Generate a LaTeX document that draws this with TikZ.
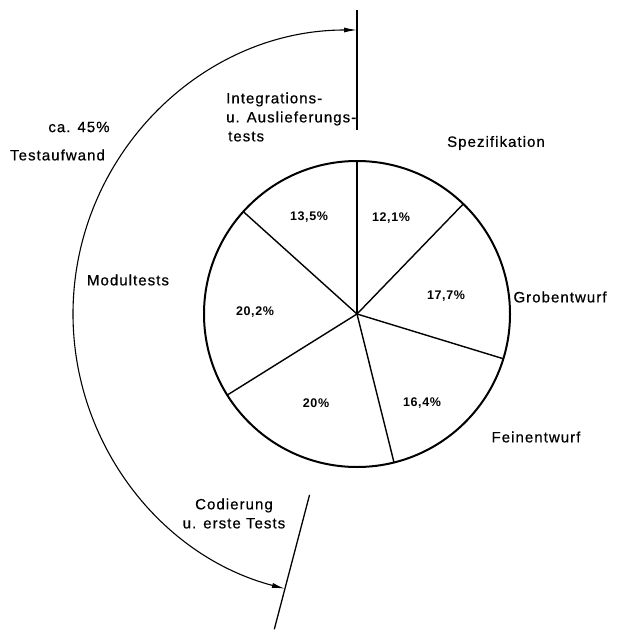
\documentclass[tikz,border=0pt]{standalone}
\usepackage{fontspec}
\usetikzlibrary{arrows.meta}
\newfontfamily\labfont[LetterSpace=7,FakeBold=0.6]{Liberation Sans}
\newfontfamily\pctfont[LetterSpace=5]{Liberation Sans}
\begin{document}
\begin{tikzpicture}[x=1pt,y=1pt,
  lab/.style={font=\labfont\fontsize{15}{19}\selectfont, inner sep=0pt},
  pct/.style={font=\pctfont\bfseries\fontsize{12.5}{15}\selectfont, inner sep=0pt},
  slice/.style={line width=1.4pt},
  tick/.style={line width=1.3pt},
  span/.style={line width=1.1pt, {Latex[length=13pt,width=5pt]}-{Latex[length=13pt,width=5pt]}}]
\useasboundingbox (0,0) rectangle (632,-634);
\coordinate (C) at (357,-314);
% pie
\node[circle, draw, line width=2pt, minimum size=306pt, inner sep=0pt, outer sep=0pt] (pie) at (C) {};
\foreach \a in {90,46.44,-17.28,-76.32,-148.32,138.96}
  \draw[slice] (pie.center) -- (pie.\a);
% outer arc with ticks
\coordinate (arcS) at ([shift={(90:284)}]C);
\draw[span] (arcS) arc[start angle=90, end angle=255.3, radius=284];
\coordinate (t1) at ([shift={(90:184)}]C);
\coordinate (t2) at ([shift={(90:304)}]C);
\coordinate (b1) at ([shift={(255.3:187)}]C);
\coordinate (b2) at ([shift={(255.3:326)}]C);
\draw[tick] (t1) -- (t2);
\draw[tick] (b1) -- (b2);
% percentages
\node[pct] (p1) at (391,-218) {12,1\%};
\node[pct] (p2) at (446,-296) {17,7\%};
\node[pct] (p3) at (422,-403) {16,4\%};
\node[pct] (p4) at (316,-403) {20\%};
\node[pct] (p5) at (255,-312) {20,2\%};
\node[pct] (p6) at (309,-217) {13,5\%};
% labels
\node[lab, anchor=west, align=left] (integ) at (226,-117) {Integrations-\\u. Auslieferungs-\\\hspace*{2pt}tests};
\node[lab] (spez) at (496,-143) {Spezifikation};
\node[lab] (grob) at (560,-297) {Grobentwurf};
\node[lab] (fein) at (536,-437) {Feinentwurf};
\node[lab, align=center] (cod) at (234,-513.5) {Codierung\\u. erste Tests};
\node[lab] (ca) at (79,-127) {ca. 45\%};
\node[lab] (aufw) at (57.5,-155) {Testaufwand};
\node[lab] (modul) at (128,-280) {Modultests};
\end{tikzpicture}
\end{document}
